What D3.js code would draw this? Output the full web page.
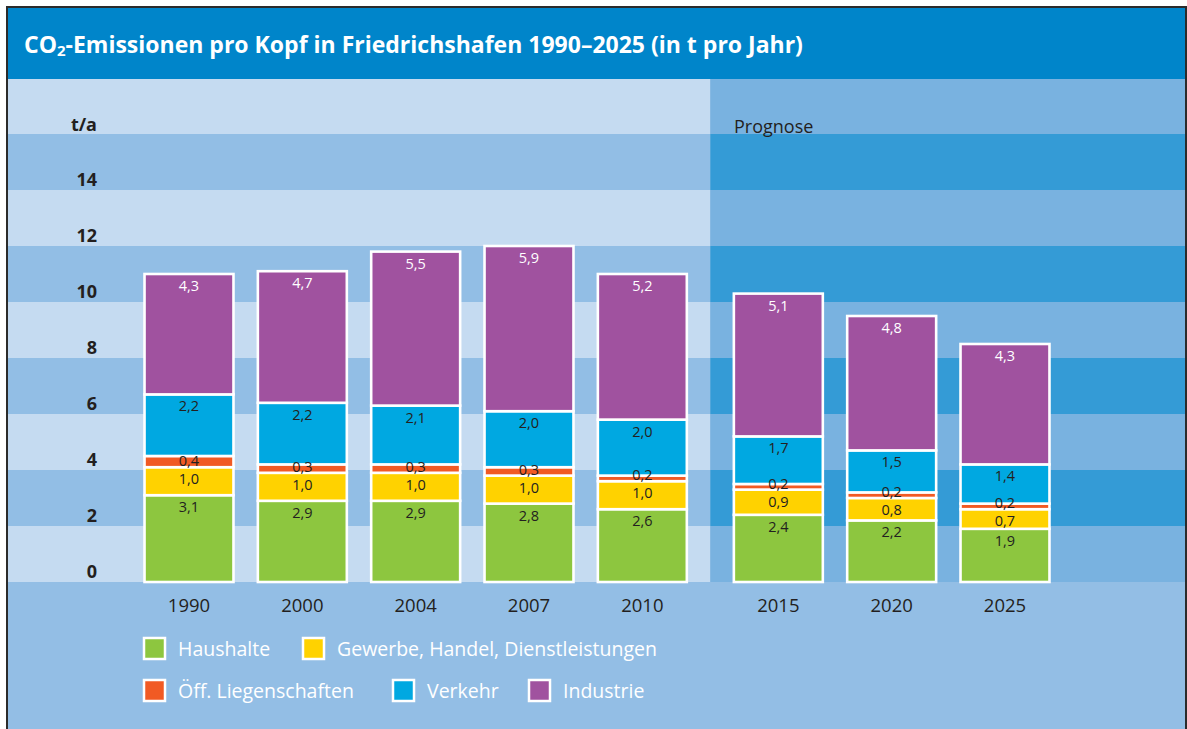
<!DOCTYPE html>
<html>
<head>
<meta charset="utf-8">
<script src="https://cdnjs.cloudflare.com/ajax/libs/d3/7.8.5/d3.min.js"></script>
<style>
  body { margin: 0; background: #fff; }
  svg { display: block; font-family: "Open Sans", "Noto Sans", sans-serif; }
</style>
</head>
<body>
<svg id="chart" width="1187" height="729"></svg>
<script>
// data
var years = ["1990", "2000", "2004", "2007", "2010", "2015", "2020", "2025"];
var prognoseYears = ["2015", "2020", "2025"];
var haushalte = [3.1, 2.9, 2.9, 2.8, 2.6, 2.4, 2.2, 1.9];
var gewerbe = [1.0, 1.0, 1.0, 1.0, 1.0, 0.9, 0.8, 0.7];
var oeffentlich = [0.4, 0.3, 0.3, 0.3, 0.2, 0.2, 0.2, 0.2];
var verkehr = [2.2, 2.2, 2.1, 2.0, 2.0, 1.7, 1.5, 1.4];
var industrie = [4.3, 4.7, 5.5, 5.9, 5.2, 5.1, 4.8, 4.3];
var yTicks = [0, 2, 4, 6, 8, 10, 12, 14];

var series = [
  {key: "haushalte", name: "Haushalte", values: haushalte, color: "#8dc63f", text: "#231f20"},
  {key: "gewerbe", name: "Gewerbe, Handel, Dienstleistungen", values: gewerbe, color: "#ffd200", text: "#231f20"},
  {key: "oeff", name: "Öff. Liegenschaften", values: oeffentlich, color: "#f15a24", text: "#231f20"},
  {key: "verkehr", name: "Verkehr", values: verkehr, color: "#00a8e1", text: "#231f20"},
  {key: "industrie", name: "Industrie", values: industrie, color: "#a0529f", text: "#ffffff"}
];

var rows = years.map(function(y, i) {
  var r = {year: y};
  series.forEach(function(s) { r[s.key] = s.values[i]; });
  return r;
});

var svg = d3.select("#chart");
var W = 1187, H = 729;
var frameL = 8, frameR = 1185, frameT = 8;

var de = d3.formatLocale({decimal: ",", thousands: ".", grouping: [3], currency: ["", " €"]});
var fmt = de.format(".1f");

// forecast bars sit a bit further right
function slot(i) { return i + (prognoseYears.indexOf(years[i]) >= 0 ? 0.2 : 0); }
var x = d3.scaleLinear().domain([0, 7.2]).range([189, 1005]);
var y = d3.scaleLinear().domain([0, 18]).range([582, 78]);
var step = x(1) - x(0);
var barW = step * 0.785;
var splitX = x(4.6);

// background
svg.append("rect").attr("x", frameL).attr("y", frameT).attr("width", frameR - frameL).attr("height", H - frameT)
  .attr("fill", "#93bee5");

var bands = d3.range(0, 18, 2);
svg.append("g").selectAll("rect").data(bands).join("rect")
  .attr("x", frameL).attr("width", splitX - frameL)
  .attr("y", function(d) { return y(d + 2); })
  .attr("height", function(d) { return y(d) - y(d + 2); })
  .attr("fill", function(d) { return (d / 2) % 2 === 0 ? "#c5dbf1" : "#92bee5"; });
svg.append("g").selectAll("rect").data(bands).join("rect")
  .attr("x", splitX).attr("width", frameR - splitX)
  .attr("y", function(d) { return y(d + 2); })
  .attr("height", function(d) { return y(d) - y(d + 2); })
  .attr("fill", function(d) { return (d / 2) % 2 === 0 ? "#79b2e0" : "#349bd6"; });

// title bar
svg.append("rect").attr("x", frameL).attr("y", frameT).attr("width", frameR - frameL).attr("height", y(18) - frameT + 1)
  .attr("fill", "#0085ca");
var title = svg.append("text").attr("x", 24).attr("y", 53)
  .attr("fill", "#fff").attr("font-weight", "bold").attr("font-size", "23px");
title.append("tspan").text("CO");
title.append("tspan").attr("font-size", "15px").attr("dy", 3).text("2");
title.append("tspan").attr("dy", -3).text("-Emissionen pro Kopf in Friedrichshafen 1990–2025 (in t pro Jahr)");

// frame
svg.append("path")
  .attr("d", "M" + (frameL - 1) + "," + H + "V" + (frameT - 1) + "H" + (frameR + 1) + "V" + H)
  .attr("fill", "none").attr("stroke", "#2b2b2b").attr("stroke-width", 2);

// y axis labels
var yAxis = svg.append("g").attr("font-weight", "bold").attr("font-size", "18px").attr("fill", "#231f20")
  .attr("text-anchor", "end");
yAxis.selectAll("text.tick").data(yTicks).join("text").attr("class", "tick")
  .attr("x", 97).attr("y", function(d) { return y(d) - 4; })
  .text(function(d) { return d; });
yAxis.append("text").attr("x", 97).attr("y", y(16) - 3).text("t/a");

svg.append("text").attr("x", 734).attr("y", y(16) - 1).attr("font-size", "18px").attr("fill", "#231f20")
  .text("Prognose");

// stacked bars
var stack = d3.stack().keys(series.map(function(s) { return s.key; }));
var stacked = stack(rows);

var layers = svg.append("g").selectAll("g").data(stacked).join("g")
  .attr("fill", function(d, i) { return series[i].color; });
layers.selectAll("rect").data(function(d) { return d; }).join("rect")
  .attr("x", function(d, i) { return x(slot(i)) - barW / 2; })
  .attr("width", barW)
  .attr("y", function(d) { return y(d[1]); })
  .attr("height", function(d) { return y(d[0]) - y(d[1]); })
  .attr("stroke", "#fff").attr("stroke-width", 2.6);

// value labels
var labels = svg.append("g").attr("font-size", "14.5px").attr("text-anchor", "middle");
stacked.forEach(function(layer, li) {
  labels.selectAll("text.l" + li).data(layer).join("text").attr("class", "l" + li)
    .attr("x", function(d, i) { return x(slot(i)); })
    .attr("y", function(d) {
      if (series[li].key === "oeff") return y(d[0]) - 1;
      return y(d[1]) + 17;
    })
    .attr("fill", series[li].text)
    .text(function(d) { return fmt(d[1] - d[0]); });
});

// x axis labels
svg.append("g").selectAll("text").data(years).join("text")
  .attr("x", function(d, i) { return x(slot(i)); })
  .attr("y", 612).attr("text-anchor", "middle").attr("font-size", "18.5px")
  .attr("fill", "#231f20")
  .text(function(d) { return d; });

// legend
var legendPos = [
  {x: 143, y: 649}, {x: 302, y: 649},
  {x: 143, y: 691}, {x: 392, y: 691}, {x: 528, y: 691}
];
var legend = svg.append("g").selectAll("g").data(series).join("g")
  .attr("transform", function(d, i) { return "translate(" + legendPos[i].x + "," + legendPos[i].y + ")"; });
legend.append("rect").attr("x", 1).attr("y", -11).attr("width", 21).attr("height", 21)
  .attr("fill", function(d) { return d.color; }).attr("stroke", "#fff").attr("stroke-width", 2.5);
legend.append("text").attr("x", 35).attr("y", 7).attr("font-size", "19.5px").attr("fill", "#fff")
  .text(function(d) { return d.name; });
</script>
</body>
</html>
